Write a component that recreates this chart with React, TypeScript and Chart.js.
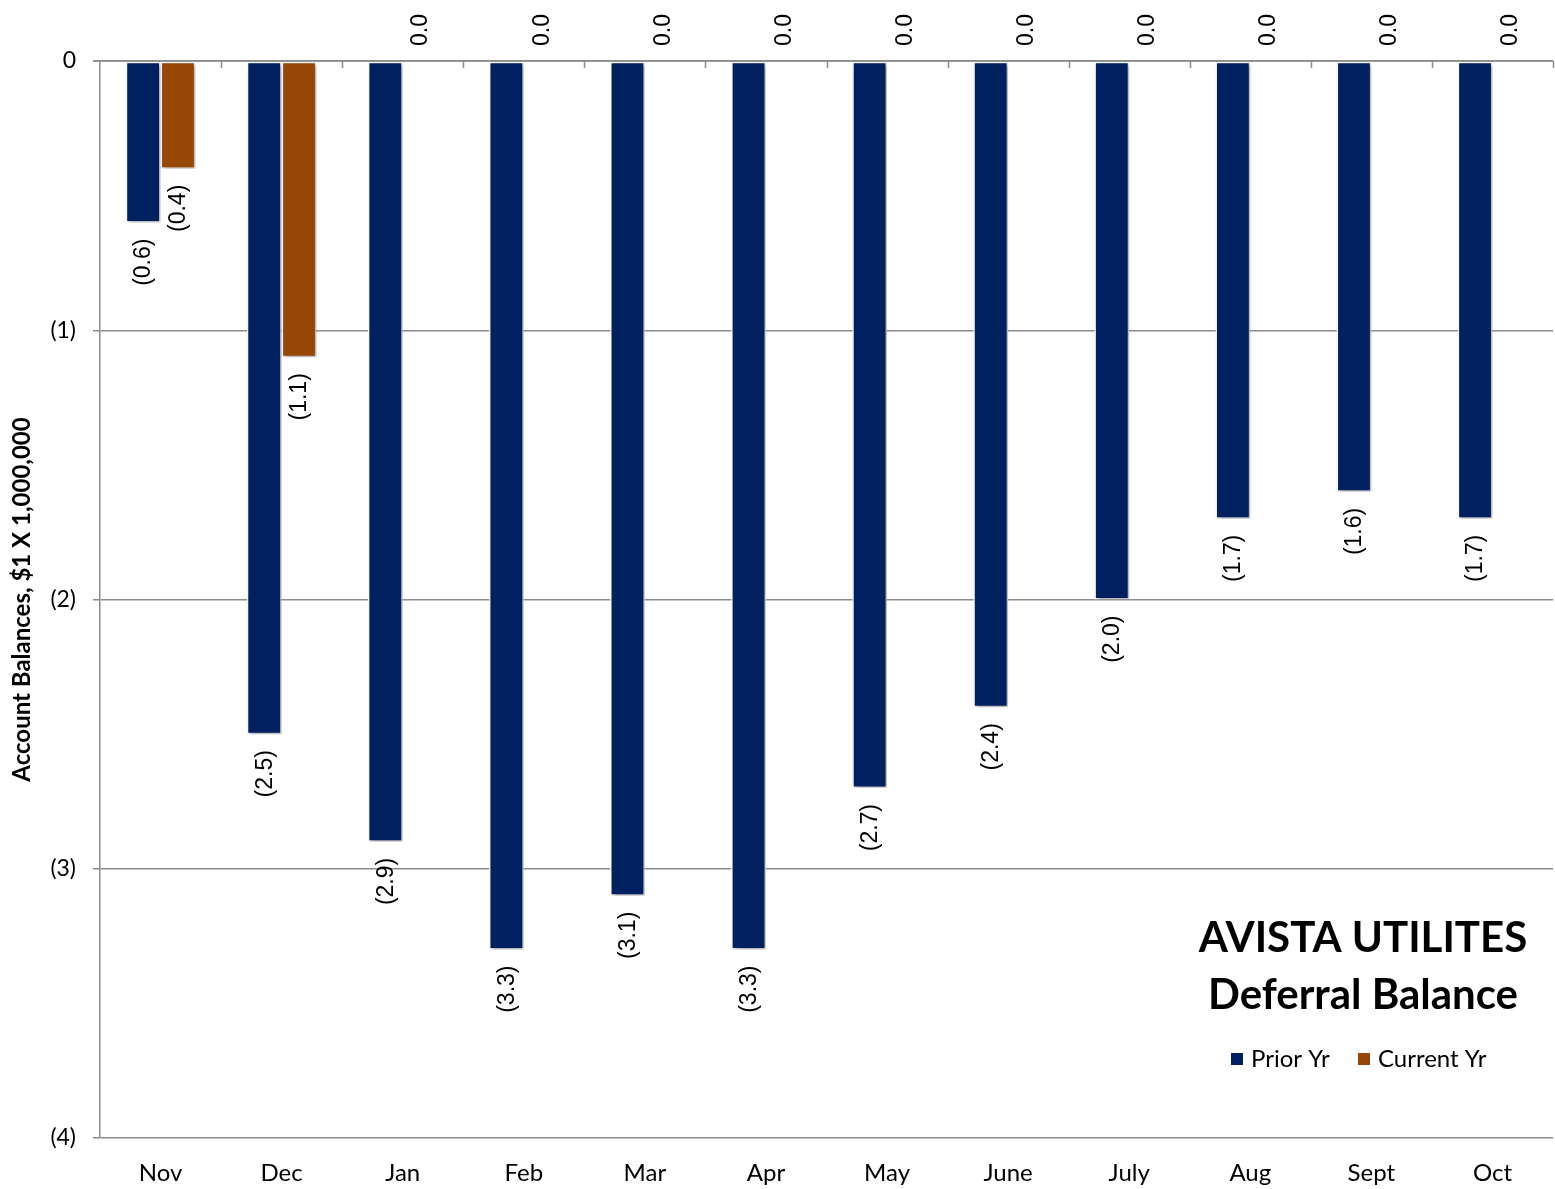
import React, { useEffect, useRef } from "react";
import { Chart, registerables } from "chart.js";

Chart.register(...registerables);

const categories = ["Nov", "Dec", "Jan", "Feb", "Mar", "Apr", "May", "June", "July", "Aug", "Sept", "Oct"];
const priorYr = [-0.6, -2.5, -2.9, -3.3, -3.1, -3.3, -2.7, -2.4, -2.0, -1.7, -1.6, -1.7];
const currentYr = [-0.4, -1.1, 0, 0, 0, 0, 0, 0, 0, 0, 0, 0];
const yTicks = [0, -1, -2, -3, -4];
const titleLines = ["AVISTA UTILITES", "Deferral Balance"];
const yAxisTitle = "Account Balances, $1 X 1,000,000";

const PRIOR_COLOR = "#002060";
const CURRENT_COLOR = "#974706";
const GRID_COLOR = "#8c8c8c";
const UI_FONT = "Lato, 'Open Sans', sans-serif";
const LABEL_FONT = "'Liberation Sans', Arial, sans-serif";

const fmt = (v: number) => {
  const s = Math.abs(v).toFixed(1);
  return v < 0 ? `(${s})` : s;
};

const decorPlugin = {
  id: "decor",
  beforeDatasetsDraw(chart: any) {
    const ctx = chart.ctx;
    ctx.save();
    ctx.shadowColor = "rgba(0,0,0,0.35)";
    ctx.shadowBlur = 4;
    ctx.shadowOffsetX = 2;
    ctx.shadowOffsetY = 2;
  },
  afterDatasetsDraw(chart: any) {
    chart.ctx.restore();
  },
  afterDraw(chart: any) {
    const ctx = chart.ctx;
    const area = chart.chartArea;
    const ys = chart.scales.y;
    const y0 = ys.getPixelForValue(0);

    // zero axis line + category boundary tick marks
    ctx.save();
    ctx.strokeStyle = GRID_COLOR;
    ctx.lineWidth = 1.5;
    ctx.beginPath();
    ctx.moveTo(area.left - 7, y0);
    ctx.lineTo(area.right, y0);
    const n = categories.length;
    const step = (area.right - area.left) / n;
    for (let k = 1; k <= n; k++) {
      const x = Math.round(area.left + step * k) + 0.5;
      ctx.moveTo(x, y0);
      ctx.lineTo(x, y0 + 7);
    }
    ctx.stroke();
    ctx.restore();

    // data labels (rotated)
    ctx.save();
    ctx.fillStyle = "#000";
    ctx.font = `23px ${LABEL_FONT}`;
    ctx.textBaseline = "middle";
    chart.data.datasets.forEach((ds: any, di: number) => {
      const meta = chart.getDatasetMeta(di);
      meta.data.forEach((bar: any, i: number) => {
        const v = ds.data[i];
        const yEnd = ys.getPixelForValue(v);
        ctx.save();
        if (v < 0) {
          ctx.translate(bar.x + 1, yEnd + 16);
          ctx.rotate(-Math.PI / 2);
          ctx.textAlign = "right";
        } else {
          ctx.translate(bar.x + 1, yEnd - 15);
          ctx.rotate(-Math.PI / 2);
          ctx.textAlign = "left";
        }
        ctx.fillText(fmt(v), 0, 0);
        ctx.restore();
      });
    });
    ctx.restore();

    // title block
    ctx.save();
    ctx.fillStyle = "#000";
    ctx.textAlign = "center";
    ctx.textBaseline = "alphabetic";
    ctx.font = `bold 42px ${UI_FONT}`;
    const cx = 1363;
    ctx.fillText(titleLines[0], cx, area.top + 891);
    ctx.fillText(titleLines[1], cx, area.top + 948);

    // legend
    ctx.font = `24px ${UI_FONT}`;
    ctx.textAlign = "left";
    ctx.textBaseline = "middle";
    const ly = area.top + 998;
    const items = [
      { label: chart.data.datasets[0].label, color: PRIOR_COLOR, x: 1231 },
      { label: chart.data.datasets[1].label, color: CURRENT_COLOR, x: 1358 },
    ];
    items.forEach((it) => {
      ctx.fillStyle = it.color;
      ctx.fillRect(it.x, ly - 6, 12, 12);
      ctx.fillStyle = "#000";
      ctx.fillText(it.label, it.x + 20, ly);
    });
    ctx.restore();
  },
};

export default function App() {
  const ref = useRef<HTMLCanvasElement | null>(null);
  useEffect(() => {
    if (!ref.current) return;
    const chart = new Chart(ref.current, {
      type: "bar",
      data: {
        labels: categories,
        datasets: [
          {
            label: "Prior Yr",
            data: priorYr,
            backgroundColor: PRIOR_COLOR,
            borderColor: "#ffffff",
            borderWidth: 1.5,
            borderSkipped: false,
          },
          {
            label: "Current Yr",
            data: currentYr,
            backgroundColor: CURRENT_COLOR,
            borderColor: "#ffffff",
            borderWidth: 1.5,
            borderSkipped: false,
          },
        ],
      },
      options: {
        animation: false,
        responsive: true,
        maintainAspectRatio: false,
        layout: { padding: { top: 61, right: 2, left: 0, bottom: 0 } },
        datasets: { bar: { categoryPercentage: 0.575, barPercentage: 1.0 } },
        plugins: { legend: { display: false }, tooltip: { enabled: false } },
        scales: {
          x: {
            grid: { display: false, drawTicks: false },
            border: { display: false },
            ticks: { color: "#000", font: { family: UI_FONT, size: 24 }, padding: 21, maxRotation: 0 },
            afterFit: (s: any) => {
              s.height = 51;
            },
          },
          y: {
            min: -4,
            max: 0,
            afterBuildTicks: (s: any) => {
              s.ticks = yTicks.map((v) => ({ value: v }));
            },
            grid: { color: GRID_COLOR, lineWidth: 1.5, tickLength: 7, drawTicks: true },
            border: { display: true, color: GRID_COLOR, width: 1.5 },
            ticks: {
              color: "#000",
              font: { family: UI_FONT, size: 23 },
              padding: 17,
              callback: (v: any) => (Number(v) === 0 ? "0" : `(${Math.abs(Number(v))})`),
            },
            title: {
              display: true,
              text: yAxisTitle,
              color: "#000",
              font: { family: UI_FONT, size: 24, weight: "bold" },
              padding: { top: 8, bottom: 0 },
            },
            afterFit: (s: any) => {
              s.width = 100;
            },
          },
        },
      },
      plugins: [decorPlugin],
    });
    return () => chart.destroy();
  }, []);
  return (
    <div style={{ position: "absolute", left: 0, top: 0, width: 1555, height: 1189 }}>
      <canvas ref={ref} />
    </div>
  );
}
